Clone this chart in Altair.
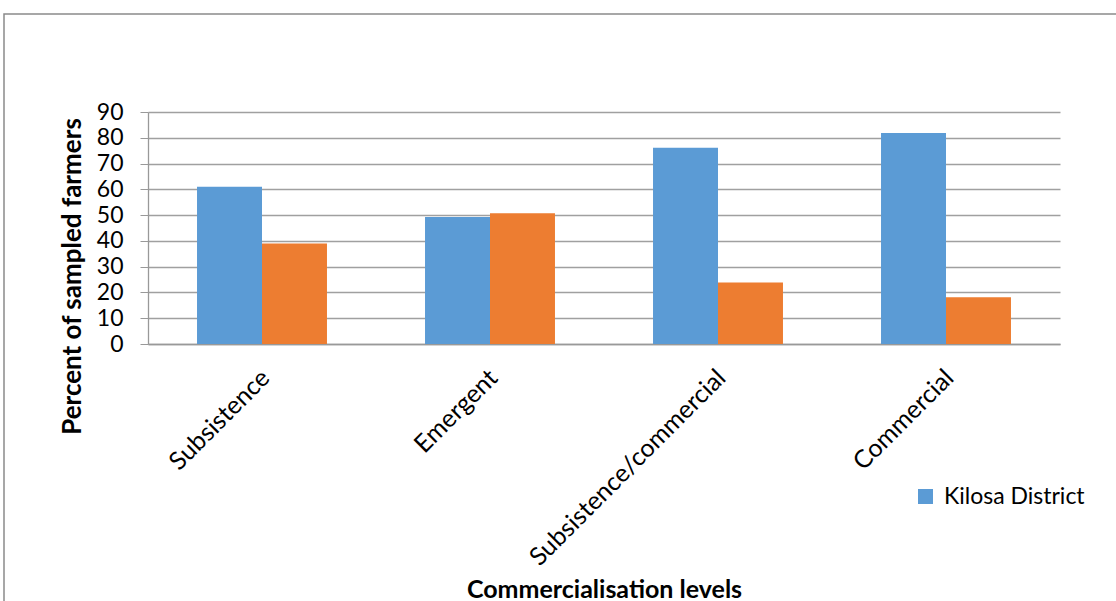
import altair as alt
import pandas as pd

categories = ["Subsistence", "Emergent", "Subsistence/commercial", "Commercial"]
series_names = ["Kilosa District", "Mvomero District"]
kilosa = [61.0, 49.3, 76.1, 81.9]
other = [39.0, 50.7, 23.9, 18.1]
y_ticks = [0, 10, 20, 30, 40, 50, 60, 70, 80, 90]

rows = []
for c, a, b in zip(categories, kilosa, other):
    rows.append({"level": c, "series": series_names[0], "pct": a})
    rows.append({"level": c, "series": series_names[1], "pct": b})
df = pd.DataFrame(rows)

FONT = "Lato"

bars = alt.Chart(df).mark_bar().encode(
    x=alt.X("level:N", sort=categories,
            scale=alt.Scale(paddingInner=0.43, paddingOuter=0.215),
            axis=alt.Axis(title="Commercialisation levels", labelAngle=-45,
                          labelFontSize=25, labelFont=FONT, labelColor="#000000",
                          labelPadding=21, labelLimit=0, labelOffset=-5, ticks=False,
                          domainColor="#999999",
                          domainWidth=1.3, titleFontSize=25, titleFont=FONT,
                          titleFontWeight="bold", titleColor="#000000",
                          titleBaseline="alphabetic", titleY=253, grid=False)),
    xOffset=alt.XOffset("series:N", sort=series_names),
    y=alt.Y("pct:Q", scale=alt.Scale(domain=[0, 90], nice=False),
            axis=alt.Axis(title="Percent of sampled farmers", values=y_ticks,
                          labelFontSize=23, labelFont=FONT, labelColor="#000000",
                          labelPadding=17, tickSize=8, tickColor="#999999",
                          domainColor="#999999", domainWidth=1.3,
                          gridColor="#A0A0A0", gridWidth=1.3,
                          titleFontSize=26, titleFont=FONT, titleFontWeight="bold",
                          titleColor="#000000", titleX=-76, titleY=164,
                          titleBaseline="middle", titleAngle=-90)),
    color=alt.Color("series:N", sort=series_names,
                    scale=alt.Scale(domain=series_names, range=["#5B9BD5", "#ED7D31"]),
                    legend=alt.Legend(title=None, values=[series_names[0]],
                                      orient="none", legendX=766, legendY=373,
                                      symbolType="square", symbolSize=225,
                                      symbolStrokeWidth=0, labelFontSize=23,
                                      labelFont=FONT, labelColor="#000000",
                                      labelOffset=7, padding=0)),
)

border = alt.Chart(alt.Data(values=[{"a": 1}])).mark_rect(
    fill="transparent", stroke="#8a8a8a", strokeWidth=1.5
).encode(
    x=alt.value(-144), x2=alt.value(1100), y=alt.value(-98), y2=alt.value(600)
)

chart = alt.layer(border, bars).properties(
    width=912, height=232,
    autosize=alt.AutoSizeParams(type="none"),
    padding={"left": 148, "top": 112, "right": 56, "bottom": 257},
    background="white",
).configure_view(stroke=None)

chart.save("out.html", embed_options={"renderer": "svg", "actions": False})
